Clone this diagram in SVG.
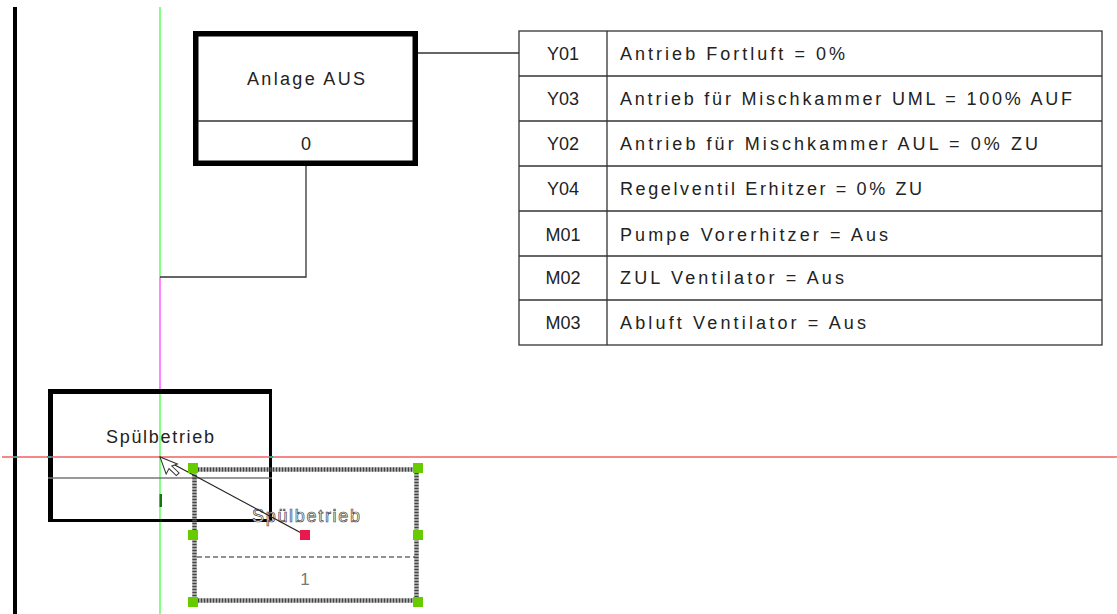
<svg xmlns="http://www.w3.org/2000/svg" width="1117" height="614" viewBox="0 0 1117 614">
<defs>
<style>
.t{font-family:"Liberation Sans",Arial,sans-serif;font-size:18px;fill:#222;}
.thin{stroke:#333;stroke-width:1.3;fill:none;}
.thick{stroke:#000;fill:none;}
.grip{fill:#66cc00;}
.ghost{font-family:"Liberation Sans",Arial,sans-serif;font-size:18px;fill:#fff;stroke:#444;stroke-width:0.7;}
</style>
</defs>
<rect width="1117" height="614" fill="#fff"/>

<!-- left rail -->
<rect x="13" y="7" width="4" height="607" fill="#000"/>

<!-- tracking lines -->
<line x1="160" y1="7" x2="160" y2="277" stroke="#66ff66" stroke-width="1.6"/>
<line x1="160" y1="277" x2="160" y2="389" stroke="#ff66ff" stroke-width="1.6"/>
<line x1="160" y1="389" x2="160" y2="614" stroke="#66ff66" stroke-width="1.6"/>

<g id="connectors">
<polyline class="thin" points="418,53 519,53"/>
<polyline class="thin" points="306,166 306,277 160,277"/>
</g>

<g id="anlage-aus">
<rect class="thick" x="195.75" y="33.75" width="219.5" height="129.5" stroke-width="5.5"/>
<line class="thin" x1="198" y1="121" x2="413" y2="121"/>
<text class="t" x="306" y="85" text-anchor="middle" textLength="118" lengthAdjust="spacing">Anlage  AUS</text>
<text class="t" x="306" y="150" text-anchor="middle">0</text>
</g>

<g id="table">
<rect class="thin" x="519" y="31" width="583" height="314"/>
<line class="thin" x1="607" y1="31" x2="607" y2="345"/>
<line class="thin" x1="519" y1="76" x2="1102" y2="76"/>
<line class="thin" x1="519" y1="121" x2="1102" y2="121"/>
<line class="thin" x1="519" y1="166" x2="1102" y2="166"/>
<line class="thin" x1="519" y1="211" x2="1102" y2="211"/>
<line class="thin" x1="519" y1="256" x2="1102" y2="256"/>
<line class="thin" x1="519" y1="300" x2="1102" y2="300"/>
<g id="row-y01"><text class="t" x="563" y="60" text-anchor="middle">Y01</text><text class="t" x="620" y="60" textLength="225" lengthAdjust="spacing">Antrieb Fortluft = 0%</text></g>
<g id="row-y03"><text class="t" x="563" y="105" text-anchor="middle">Y03</text><text class="t" x="620" y="105" textLength="452" lengthAdjust="spacing">Antrieb für Mischkammer UML = 100% AUF</text></g>
<g id="row-y02"><text class="t" x="563" y="150" text-anchor="middle">Y02</text><text class="t" x="620" y="150" textLength="418" lengthAdjust="spacing">Antrieb für Mischkammer AUL = 0% ZU</text></g>
<g id="row-y04"><text class="t" x="563" y="195" text-anchor="middle">Y04</text><text class="t" x="620" y="195" textLength="302" lengthAdjust="spacing">Regelventil Erhitzer = 0% ZU</text></g>
<g id="row-m01"><text class="t" x="563" y="241" text-anchor="middle">M01</text><text class="t" x="620" y="241" textLength="268" lengthAdjust="spacing">Pumpe Vorerhitzer = Aus</text></g>
<g id="row-m02"><text class="t" x="563" y="284" text-anchor="middle">M02</text><text class="t" x="620" y="284" textLength="224" lengthAdjust="spacing">ZUL Ventilator = Aus</text></g>
<g id="row-m03"><text class="t" x="563" y="329" text-anchor="middle">M03</text><text class="t" x="620" y="329" textLength="246" lengthAdjust="spacing">Abluft Ventilator = Aus</text></g>
</g>

<g id="spuelbetrieb">
<line x1="48" y1="391.5" x2="272" y2="391.5" stroke="#000" stroke-width="5"/>
<line x1="50.5" y1="389" x2="50.5" y2="522" stroke="#000" stroke-width="5"/>
<line x1="270.5" y1="389" x2="270.5" y2="522" stroke="#000" stroke-width="3"/>
<line x1="48" y1="520.5" x2="272" y2="520.5" stroke="#000" stroke-width="3"/>
<line x1="48" y1="478" x2="272" y2="478" stroke="#777" stroke-width="1.3"/>
<text class="t" x="160" y="443" text-anchor="middle" textLength="108" lengthAdjust="spacing">Spülbetrieb</text>
</g>

<!-- horizontal tracking line -->
<line x1="2" y1="457" x2="1117" y2="457" stroke="#f06060" stroke-width="1.3"/>
<rect x="13" y="456" width="4" height="2" fill="#2a9d9d"/>
<rect x="47" y="456" width="4" height="2" fill="#2a9d9d"/>
<rect x="269" y="456" width="4" height="2" fill="#2a9d9d"/>
<rect x="159.5" y="494" width="2.5" height="13" fill="#117711"/>

<g id="spuelbetrieb-ghost">
<rect x="194.5" y="469.5" width="222" height="131" fill="none" stroke="#444" stroke-width="4.5" stroke-dasharray="2 1"/>
<line x1="197" y1="557" x2="415" y2="557" stroke="#222" stroke-width="1.2" stroke-dasharray="5 3"/>
<text class="ghost" x="306" y="522" text-anchor="middle" textLength="108" lengthAdjust="spacing">Spülbetrieb</text>
<text x="305" y="585" text-anchor="middle" font-family="Liberation Sans, Arial, sans-serif" font-size="17" fill="#777">1</text>
</g>

<g id="drag">
<line x1="160" y1="457" x2="305" y2="535" stroke="#222" stroke-width="1.2"/>
<rect class="grip" x="188" y="463" width="10" height="10"/>
<rect class="grip" x="413" y="463" width="10" height="10"/>
<rect class="grip" x="188" y="530" width="10" height="10"/>
<rect class="grip" x="413" y="530" width="10" height="10"/>
<rect class="grip" x="188" y="597" width="10" height="10"/>
<rect class="grip" x="413" y="597" width="10" height="10"/>
<rect x="300" y="530" width="10" height="10" fill="#e8194b"/>
<polygon points="160,457 160,475 164.5,471 169,480 172.5,478.5 168,469.5 174,469.5" fill="#fff" stroke="#333" stroke-width="1" transform="rotate(-20 160 457)"/>
</g>
</svg>
